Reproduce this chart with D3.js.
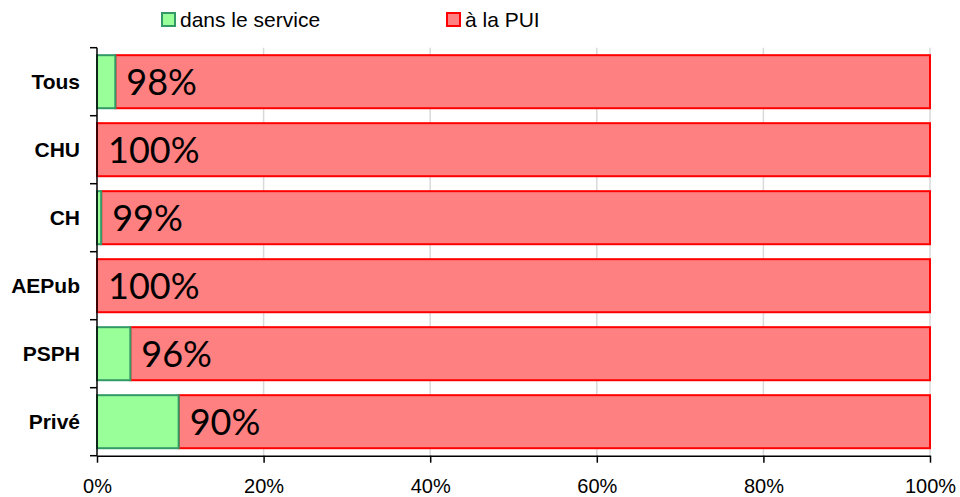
<!DOCTYPE html>
<html>
<head>
<meta charset="utf-8">
<script src="https://cdn.jsdelivr.net/npm/d3@7"></script>
<style>
  body { margin: 0; background: #fff; }
  text { font-family: Arial, "Liberation Sans", sans-serif; }
  .pct { font-family: Lato, "Noto Sans", sans-serif; }
</style>
</head>
<body>
<svg width="960" height="497"></svg>
<script>
// chart data
var categories = ['Tous', 'CHU', 'CH', 'AEPub', 'PSPH', 'Privé'];
var service = [2.2, 0, 0.5, 0, 4, 9.8];
var pui = [97.8, 100, 99.5, 100, 96, 90.2];
var puiLabels = ['98%', '100%', '99%', '100%', '96%', '90%'];
var seriesNames = ['dans le service', 'à la PUI'];
var xTicks = [0, 20, 40, 60, 80, 100];

function main() {
	var svg = d3.select('svg'),
	left = 97, right = 930, top = 47.7, bottom = 455.7;

	var x = d3.scaleLinear().domain([0, 100]).range([left, right]);
	var y = d3.scaleBand().domain(categories).range([top, bottom]).paddingInner(0.22).paddingOuter(0.11);
	var y0 = d3.scaleBand().domain(categories).range([top, bottom]);

	// gridlines
	svg.append('g')
		.selectAll('line')
		.data(xTicks.slice(1))
		.enter().append('line')
		.attr('x1', function(d){return x(d)}).attr('x2', function(d){return x(d)})
		.attr('y1', top).attr('y2', bottom)
		.attr('stroke', '#d9d9d9').attr('stroke-width', 1.5);

	var rows = svg.append('g').selectAll('g')
		.data(categories)
		.enter().append('g');

	// red part (à la PUI)
	rows.append('rect')
		.attr('x', function(d, i){return x(service[i])})
		.attr('y', function(d){return y(d)})
		.attr('width', function(d, i){return x(service[i] + pui[i]) - x(service[i])})
		.attr('height', y.bandwidth())
		.attr('fill', '#ff8080').attr('stroke', '#ff0000').attr('stroke-width', 2);

	// green part (dans le service)
	rows.filter(function(d, i){return service[i] > 0})
		.append('rect')
		.attr('x', x(0))
		.attr('y', function(d){return y(d)})
		.attr('width', function(d){var i = categories.indexOf(d); return x(service[i]) - x(0)})
		.attr('height', y.bandwidth())
		.attr('fill', '#99ff99').attr('stroke', '#339966').attr('stroke-width', 2);

	// value labels
	rows.append('text')
		.attr('class', 'pct')
		.attr('x', function(d, i){return x(service[i]) + 11})
		.attr('y', function(d){return y(d) + y.bandwidth() / 2})
		.attr('dy', '0.36em')
		.attr('font-size', 36)
		.attr('fill', '#000')
		.text(function(d, i){return puiLabels[i]});

	// y axis
	var yAxis = svg.append('g').attr('transform', 'translate(' + left + ',0)');
	yAxis.append('line').attr('x1', 0).attr('x2', 0).attr('y1', top).attr('y2', bottom)
		.attr('stroke', '#000').attr('stroke-width', 1.5);
	yAxis.selectAll('.tk')
		.data(categories.concat(['__end']))
		.enter().append('line')
		.attr('x1', -7).attr('x2', 0)
		.attr('y1', function(d){return d === '__end' ? bottom : y0(d)})
		.attr('y2', function(d){return d === '__end' ? bottom : y0(d)})
		.attr('stroke', '#000').attr('stroke-width', 1.5);
	yAxis.selectAll('.lbl')
		.data(categories)
		.enter().append('text')
		.attr('x', -17)
		.attr('y', function(d){return y0(d) + y0.bandwidth() / 2})
		.attr('dy', '0.35em')
		.attr('text-anchor', 'end')
		.attr('font-size', 21).attr('font-weight', 'bold')
		.text(function(d){return d});

	// x axis
	var xAxis = d3.axisBottom(x).tickValues(xTicks).tickSize(7).tickSizeOuter(0)
		.tickFormat(function(d){return d + '%'});
	var gx = svg.append('g').attr('transform', 'translate(0,' + bottom + ')').call(xAxis);
	gx.select('.domain').attr('stroke', '#000').attr('stroke-width', 1.5);
	gx.selectAll('.tick line').attr('stroke', '#000').attr('stroke-width', 1.5);
	gx.selectAll('.tick text').attr('font-size', 20).attr('font-family', 'Arial, "Liberation Sans", sans-serif')
		.attr('fill', '#000').attr('dy', '1.35em');

	// legend
	var legend = svg.append('g');
	var legX = [162, 447];
	var legFill = ['#99ff99', '#ff8080'];
	var legStroke = ['#339966', '#ff0000'];
	seriesNames.forEach(function(name, i){
		legend.append('rect')
			.attr('x', legX[i]).attr('y', 13).attr('width', 13).attr('height', 13)
			.attr('fill', legFill[i]).attr('stroke', legStroke[i]).attr('stroke-width', 2);
		legend.append('text')
			.attr('x', legX[i] + 18).attr('y', 20).attr('dy', '0.35em')
			.attr('font-size', 21)
			.text(name);
	});
}
main();
</script>
</body>
</html>
